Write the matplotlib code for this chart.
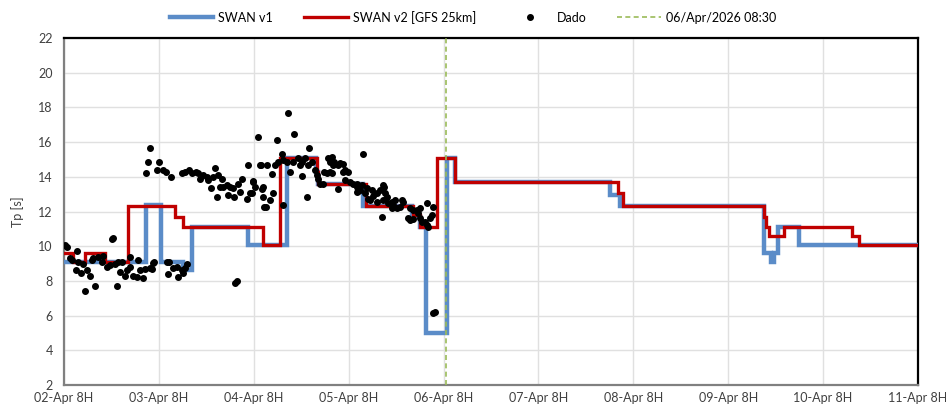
import numpy as np
import matplotlib
matplotlib.use("Agg")
import matplotlib.pyplot as plt
from matplotlib.lines import Line2D

plt.rcParams['font.family'] = ['Lato', 'DejaVu Sans']

# hours since 02-Apr 08:00
tick_labels = ['02-Apr 8H', '03-Apr 8H', '04-Apr 8H', '05-Apr 8H', '06-Apr 8H',
               '07-Apr 8H', '08-Apr 8H', '09-Apr 8H', '10-Apr 8H', '11-Apr 8H']

# SWAN v1 steps (hour, Tp)
v1_h = [0, 20.7, 24.5, 30.1, 32.4, 46.5, 56.3, 63.7, 64.2, 75.6, 88.0, 90.0, 91.6,
        96.8, 98.9, 138.1, 140.6, 177.0, 178.8, 179.6, 180.6, 185.9, 216]
v1_tp = [9.1, 12.35, 9.1, 8.65, 11.12, 10.07, 15.07, 14.3, 13.6, 12.32, 11.7, 11.1, 5.0,
         15.07, 13.7, 12.95, 12.32, 9.6, 9.1, 9.6, 11.12, 10.07, 10.07]

# SWAN v2 [GFS 25km] steps
v2_h = [0, 2.3, 5.3, 10.4, 16.2, 28.1, 30.0, 50.3, 54.5, 63.9, 64.2, 76.4, 88.3, 90.0,
        94.3, 98.9, 140.1, 141.3, 177.0, 177.6, 178.3, 182.1, 199.3, 201.1, 216]
v2_tp = [9.6, 9.1, 9.6, 9.1, 12.32, 11.7, 11.12, 10.07, 15.07, 14.3, 13.6, 12.32, 11.8, 11.12,
         15.07, 13.7, 13.07, 12.32, 11.7, 11.12, 10.6, 11.12, 10.6, 10.07, 10.07]

# observations (Dado)
obs_h = [0.25, 0.68, 1.52, 1.95, 3.21, 3.03, 3.62, 4.22, 4.88, 5.31, 5.89, 6.58, 7.0, 7.84,
         7.41, 8.67, 9.53, 9.94, 10.8, 11.63, 12.47, 12.06, 12.9, 13.33, 13.73, 14.16, 14.59,
         15.43, 15.86, 16.69, 16.69, 17.53, 18.79, 19.22, 20.05, 20.48, 22.18, 22.84, 25.97,
         18.39, 22.58, 21.75, 26.55, 26.38, 27.64, 28.5, 28.9, 29.77, 30.17, 30.6, 31.03,
         43.24, 43.68,
         21.75, 21.32, 24.03, 20.66, 23.44, 25.11, 25.72, 26.98, 29.77, 30.6, 31.61, 32.45,
         33.31, 33.96, 34.39, 35.23, 36.09, 36.49, 37.18, 38.19, 37.76, 39.02, 39.45, 40.03,
         40.29, 38.62, 41.15, 41.4, 41.98, 42.82, 43.07, 44.08, 44.51, 44.94, 46.2, 46.61,
         47.04, 47.87, 49.57, 48.99, 50.4, 50.4, 50.66,
         56.73, 53.79, 58.24, 62.04, 55.06, 49.75, 51.26, 53.36, 54.2, 55.46, 56.32, 57.16,
         57.99, 59.26, 60.12, 60.95, 59.68, 61.78, 62.64, 60.12, 52.53, 47.72, 48.3, 50.0,
         52.93, 47.47, 52.1, 51.01, 61.38, 55.46, 63.48, 63.91, 64.31, 66.84, 67.27, 68.11,
         69.8, 70.48, 69.37, 71.06, 71.9, 65.75, 66.44, 67.27, 64.74, 65.58, 69.37, 71.06,
         72.33, 73.16, 74.02, 74.43, 75.69, 67.7, 68.28, 67.7, 70.64, 74.02, 75.29, 74.02,
         74.86, 76.12, 76.96, 76.55, 77.82, 78.22, 79.08, 79.92, 80.6, 81.0, 77.39, 79.08,
         81.18, 81.61, 80.75, 82.02, 82.88, 83.71, 83.28, 84.14, 84.97, 85.4, 85.81, 82.88,
         80.35, 87.51, 88.19, 89.2, 90.03, 87.08, 87.51, 88.34, 89.6, 90.03, 90.46, 91.3,
         91.73, 92.13, 91.73, 93.4, 92.99, 92.56, 93.32, 93.83]
obs_tp = [10.07, 9.94, 9.3, 9.2, 9.7, 8.6, 9.1, 8.47, 9.0, 7.4, 8.6, 8.3, 9.2, 7.7,
          9.3, 9.4, 9.1, 9.43, 8.8, 8.9, 10.5, 10.4, 9.0, 7.7, 9.1, 8.5, 9.1,
          8.3, 8.6, 9.4, 8.8, 8.3, 9.2, 8.6, 8.15, 8.7, 8.7, 9.07, 9.07,
          8.25, 9.05, 8.75, 9.07, 8.4, 8.72, 8.8, 8.25, 8.6, 8.47, 8.75, 8.97,
          7.86, 8.0,
          15.68, 14.87, 14.87, 14.2, 14.4, 14.4, 14.3, 13.97, 14.2, 14.3, 14.4, 14.2,
          14.3, 14.2, 13.85, 14.1, 14.0, 13.8, 13.33, 14.5, 14.0, 14.1, 13.43, 13.9,
          13.43, 12.85, 13.5, 12.95, 13.43, 13.33, 12.85, 13.6, 13.14, 13.9, 12.75, 14.7,
          13.05, 13.7, 14.7, 16.3, 13.43, 12.85, 12.28,
          17.7, 16.15, 16.47, 15.68, 15.3, 14.7, 14.7, 14.7, 14.87, 14.97, 14.87, 14.3,
          14.87, 15.07, 14.87, 15.07, 14.7, 14.7, 14.87, 14.05, 14.16, 13.76, 13.43, 13.3,
          13.08, 13.05, 12.66, 12.28, 12.85, 12.37, 14.39, 14.1, 13.85, 15.07, 14.87, 14.7,
          14.8, 14.74, 14.7, 14.39, 14.3, 14.3, 14.2, 14.25, 13.6, 13.6, 13.27, 13.8,
          13.7, 13.6, 13.4, 13.2, 15.3, 15.16, 14.87, 14.2, 14.3, 13.6, 13.5, 13.14,
          13.24, 13.05, 12.75, 13.33, 13.24, 12.9, 13.05, 13.24, 13.5, 13.43, 12.66, 12.57,
          13.05, 12.85, 12.66, 12.47, 12.57, 12.66, 12.37, 12.18, 12.28, 12.66, 12.57, 12.18,
          11.67, 12.18, 12.1, 12.1, 12.18, 11.6, 11.5, 11.55, 11.9, 11.6, 11.4, 11.4,
          11.2, 11.1, 12.47, 12.28, 11.8, 11.6, 6.15, 6.2]

now_h = 96.5  # 06/Apr/2026 08:30

fig = plt.figure(figsize=(9.46, 4.09), dpi=100)
ax = fig.add_axes([0.0677, 0.0587, 0.9027, 0.8483])

ax.plot(v1_h, v1_tp, drawstyle='steps-post', color='#5B8CC8', lw=3.2,
        solid_joinstyle='miter', zorder=3)
ax.plot(v2_h, v2_tp, drawstyle='steps-post', color='#C00000', lw=2.4,
        solid_joinstyle='miter', zorder=4)
ax.plot(obs_h, obs_tp, 'o', color='black', ms=4, zorder=5)
ax.axvline(now_h, color='#9BBB59', lw=1.2, ls=(0, (3, 2)), zorder=6)

ax.set_xlim(0, 216)
ax.set_ylim(2, 22)
ax.set_xticks(np.arange(0, 217, 24))
ax.set_xticklabels(tick_labels)
ax.set_yticks(np.arange(2, 23, 2))
ax.tick_params(length=0, labelsize=9, colors='#404040', pad=8)
ax.tick_params(axis='x', pad=5)
ax.grid(True, color='#E0E0E0', lw=1)
ax.set_axisbelow(True)
ax.set_ylabel('Tp [s]', fontsize=9, color='#404040', labelpad=10)

for s in ['top', 'right']:
    ax.spines[s].set_color('black')
    ax.spines[s].set_linewidth(1.6)
for s in ['left', 'bottom']:
    ax.spines[s].set_color('#808080')
    ax.spines[s].set_linewidth(1.6)

handles = [Line2D([], [], color='#5B8CC8', lw=3.2),
           Line2D([], [], color='#C00000', lw=2.4),
           Line2D([], [], color='black', marker='o', ls='none', ms=4),
           Line2D([], [], color='#9BBB59', lw=1.2, ls=(0, (3, 2)))]
fig.legend(handles, ['SWAN v1', 'SWAN v2 [GFS 25km]', 'Dado', '06/Apr/2026 08:30'],
           loc='center', bbox_to_anchor=(0.5, 0.958), ncol=4, frameon=False,
           fontsize=9, handlelength=3.5, columnspacing=2.5, handletextpad=0.4)

fig.savefig('out.png', dpi=100)
